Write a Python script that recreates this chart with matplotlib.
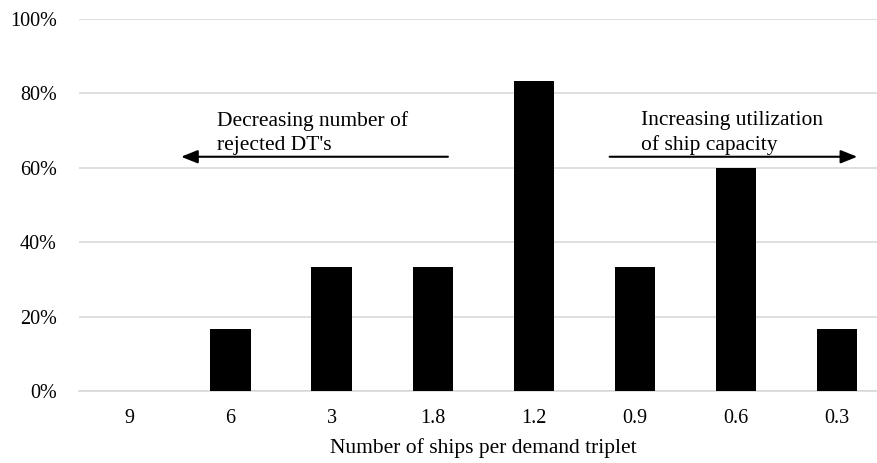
import numpy as np
import matplotlib.pyplot as plt
from matplotlib.ticker import PercentFormatter

plt.rcParams['font.family'] = ['Liberation Serif', 'DejaVu Serif']

categories = ['9', '6', '3', '1.8', '1.2', '0.9', '0.6', '0.3']
share = [0.0, 16.7, 33.3, 33.3, 83.3, 33.3, 60.0, 16.7]
yticks = [0, 20, 40, 60, 80, 100]

W, H = 877, 463
fig = plt.figure(figsize=(W / 100, H / 100), dpi=100)
# plot area runs a bit past the right edge, like the cropped original
ax = fig.add_axes([79 / W, 71.7 / H, 808.6 / W, 372.3 / H])

x = np.arange(len(categories))
ax.bar(x, share, width=0.4, color='black', zorder=3)

ax.set_xlim(-0.5, len(categories) - 0.5)
ax.set_ylim(0, 100)
ax.set_yticks(yticks)
ax.yaxis.set_major_formatter(PercentFormatter(decimals=0))
ax.set_xticks(x)
ax.set_xticklabels(categories)
ax.grid(axis='y', color='#d9d9d9', linewidth=1.2, zorder=0)
for s in ['top', 'right', 'left']:
    ax.spines[s].set_visible(False)
ax.spines['bottom'].set_color('#d9d9d9')
ax.spines['bottom'].set_linewidth(1.2)
ax.tick_params(axis='both', length=0, labelsize=14.5, colors='black')
ax.tick_params(axis='x', pad=13)
ax.tick_params(axis='y', pad=16)
ax.set_xlabel('Number of ships per demand triplet', fontsize=15.5, labelpad=7)

arrow = dict(arrowstyle='-|>,head_length=1.0,head_width=0.4', color='black', lw=1.5,
             shrinkA=0, shrinkB=0)
ax.annotate('', xy=(0.51, 63), xytext=(3.15, 63), arrowprops=arrow)
ax.annotate('', xy=(7.2, 63), xytext=(4.75, 63), arrowprops=arrow)
ax.text(0.866, 63.6, "Decreasing number of\nrejected DT's", fontsize=15.5,
        ha='left', va='bottom', linespacing=1.3)
ax.text(5.06, 63.6, "Increasing utilization\nof ship capacity", fontsize=15.5,
        ha='left', va='bottom', linespacing=1.3)

fig.savefig('out.png', dpi=100)
